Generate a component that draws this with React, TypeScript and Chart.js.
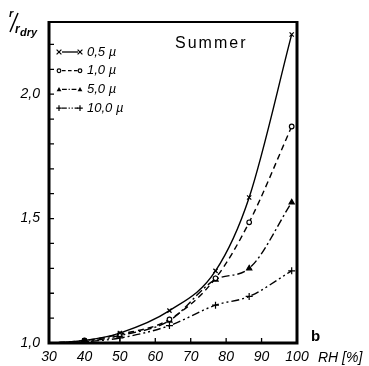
import React, { useEffect, useRef } from "react";
import { Chart, registerables } from "chart.js";
Chart.register(...registerables);

const rh = [30, 40, 50, 64, 77, 86.5, 98.5];
const r05 = [1.0, 1.01, 1.04, 1.13, 1.29, 1.585, 2.24];
const r10 = [1.0, 1.01, 1.035, 1.095, 1.26, 1.485, 1.87];
const r50 = [1.0, 1.005, 1.03, 1.09, 1.255, 1.3, 1.565];
const r100 = [1.0, 1.005, 1.02, 1.07, 1.152, 1.187, 1.29];
const seriesLabels = ["0,5 \u00b5", "1,0 \u00b5", "5,0 \u00b5", "10,0 \u00b5"];
const yLabeled = [1.0, 1.5, 2.0];
const xTicks = [30, 40, 50, 60, 70, 80, 90, 100];
const titleText = "Summer";

const styles = [
  { dash: [] as number[], point: "crossRot", r: 3 },
  { dash: [6, 4], point: "circle", r: 2.3 },
  { dash: [8, 3, 2, 3], point: "triangle", r: 3 },
  { dash: [8, 3, 2, 3, 2, 3], point: "cross", r: 3.5 },
];

function mark(ctx: CanvasRenderingContext2D, type: string, x: number, y: number, r: number) {
  ctx.save();
  ctx.setLineDash([]);
  ctx.lineWidth = 1.2;
  ctx.strokeStyle = "#000";
  ctx.fillStyle = "#000";
  ctx.beginPath();
  if (type === "crossRot") {
    ctx.moveTo(x - r, y - r); ctx.lineTo(x + r, y + r);
    ctx.moveTo(x + r, y - r); ctx.lineTo(x - r, y + r);
    ctx.stroke();
  } else if (type === "cross") {
    ctx.moveTo(x - r, y); ctx.lineTo(x + r, y);
    ctx.moveTo(x, y - r); ctx.lineTo(x, y + r);
    ctx.stroke();
  } else if (type === "circle") {
    ctx.fillStyle = "#fff";
    ctx.arc(x, y, r, 0, Math.PI * 2);
    ctx.fill(); ctx.stroke();
  } else {
    ctx.moveTo(x, y - r); ctx.lineTo(x + r, y + r * 0.8); ctx.lineTo(x - r, y + r * 0.8);
    ctx.closePath(); ctx.fill();
  }
  ctx.restore();
}

const decor = {
  id: "decor",
  afterDraw(chart: any) {
    const ctx: CanvasRenderingContext2D = chart.ctx;
    const a = chart.chartArea;
    const xs = chart.scales.x;
    const ys = chart.scales.y;
    ctx.save();
    // frame
    ctx.strokeStyle = "#000";
    ctx.lineWidth = 2;
    ctx.beginPath();
    ctx.moveTo(a.left, a.top); ctx.lineTo(a.right, a.top);
    ctx.stroke();
    ctx.lineWidth = 3;
    ctx.beginPath();
    ctx.moveTo(a.left, a.top - 1); ctx.lineTo(a.left, a.bottom); ctx.lineTo(a.right, a.bottom); ctx.lineTo(a.right, a.top - 1);
    ctx.stroke();
    // inward ticks
    ctx.lineWidth = 1.3;
    ctx.beginPath();
    for (let v = 11; v <= 22; v++) {
      const y = ys.getPixelForValue(v / 10);
      ctx.moveTo(a.left, y); ctx.lineTo(a.left + 5, y);
    }
    for (const v of xTicks.slice(1, -1)) {
      const x = xs.getPixelForValue(v);
      ctx.moveTo(x, a.bottom); ctx.lineTo(x, a.bottom - 5);
    }
    ctx.stroke();
    // title
    ctx.fillStyle = "#000";
    ctx.font = "16px 'Liberation Sans'";
    (ctx as any).letterSpacing = "2px";
    ctx.textBaseline = "middle";
    ctx.textAlign = "left";
    ctx.fillText(titleText, 175, 44);
    (ctx as any).letterSpacing = "0px";
    // legend
    ctx.font = "italic 13px 'Liberation Sans'";
    for (let i = 0; i < 4; i++) {
      const y = a.top + 30 + i * 18.7;
      const st = styles[i];
      ctx.save();
      ctx.lineWidth = 1.3;
      ctx.setLineDash(st.dash.map((d) => d * 0.6));
      ctx.beginPath();
      ctx.moveTo(a.left + 13, y); ctx.lineTo(a.left + 29, y);
      ctx.stroke();
      ctx.restore();
      mark(ctx, st.point, a.left + 10, y, st.r * 0.8);
      mark(ctx, st.point, a.left + 31, y, st.r * 0.8);
      ctx.fillText(seriesLabels[i], a.left + 38, y);
    }
    // y axis title
    ctx.textBaseline = "alphabetic";
    ctx.font = "italic bold 11px 'Liberation Sans'";
    ctx.fillText("r", 9, 17);
    ctx.lineWidth = 1.5;
    ctx.beginPath();
    ctx.moveTo(10, 32); ctx.lineTo(18, 13);
    ctx.stroke();
    ctx.font = "italic bold 12px 'Liberation Sans'";
    ctx.fillText("r", 15, 33);
    ctx.font = "italic bold 11px 'Liberation Sans'";
    ctx.fillText("dry", 20, 36);
    ctx.textBaseline = "middle";
    // b and RH label
    ctx.font = "bold 15px 'Liberation Sans'";
    ctx.fillText("b", a.right + 14, a.bottom - 6);
    ctx.font = "italic 14px 'Liberation Sans'";
    ctx.fillText("RH [%]", a.right + 21, a.bottom + 15);
    ctx.restore();
  },
};

export default function App() {
  const ref = useRef<HTMLCanvasElement>(null);
  useEffect(() => {
    document.body.style.margin = "0";
    const mk = (vals: number[]) => rh.map((x, i) => ({ x, y: vals[i] }));
    const all = [r05, r10, r50, r100];
    const chart = new Chart(ref.current!, {
      type: "line",
      data: {
        datasets: all.map((vals, i) => ({
          label: seriesLabels[i],
          data: mk(vals),
          borderColor: "#000",
          backgroundColor: i === 1 ? "#fff" : "#000",
          borderWidth: 1.4,
          borderDash: styles[i].dash,
          cubicInterpolationMode: "monotone" as const,
          pointStyle: styles[i].point as any,
          pointRadius: rh.map((_, j) => (j === 0 ? 0 : styles[i].r)),
          pointBorderWidth: 1.2,
          pointBorderColor: "#000",
          pointBackgroundColor: i === 1 ? "#fff" : "#000",
          fill: false,
        })),
      },
      options: {
        animation: false,
        responsive: false,
        layout: { padding: { left: 0, top: 22, right: 72, bottom: 0 } },
        plugins: { legend: { display: false }, tooltip: { enabled: false } },
        scales: {
          x: {
            type: "linear",
            min: 30,
            max: 100,
            afterFit: (s: any) => { s.height = 23; },
            afterBuildTicks: (s: any) => { s.ticks = xTicks.map((v) => ({ value: v })); },
            ticks: { color: "#000", font: { family: "'Liberation Sans'", size: 14, style: "italic" }, padding: 6, maxRotation: 0, autoSkip: false },
            grid: { display: false, drawTicks: false },
            border: { display: false },
          },
          y: {
            type: "linear",
            min: 1.0,
            max: 2.29,
            afterFit: (s: any) => { s.width = 49; },
            afterBuildTicks: (s: any) => { s.ticks = yLabeled.map((v) => ({ value: v })); },
            ticks: {
              color: "#000",
              font: { family: "'Liberation Sans'", size: 14, style: "italic" },
              padding: 9,
              callback: (v: any) => Number(v).toFixed(1).replace(".", ","),
            },
            grid: { display: false, drawTicks: false },
            border: { display: false },
          },
        },
      },
      plugins: [decor],
    });
    return () => chart.destroy();
  }, []);
  return <canvas ref={ref} width={369} height={366} style={{ display: "block" }} />;
}
